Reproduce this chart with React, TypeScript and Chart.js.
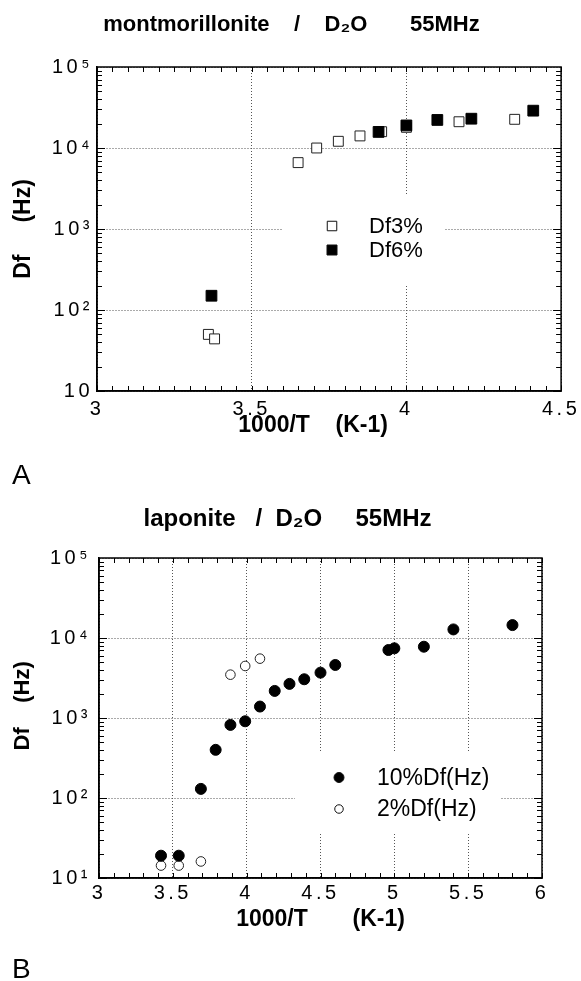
import React, { useEffect, useRef } from 'react';
import { Chart, registerables } from 'chart.js';

Chart.register(...registerables);

const FONT = "'Liberation Sans', Arial, Helvetica, sans-serif";

// ---------- Panel A : montmorillonite / D2O ----------
const montTitle = 'montmorillonite    /    D₂O       55MHz';
const montXTicks = [3, 3.5, 4, 4.5];
const montXLabels = ['3', '3.5', '4', '4.5'];
const montYTicks = [10, 100, 1000, 10000, 100000];
const montYLabels = ['10', '10²', '10³', '10⁴', '10⁵'];
const montDf3X = [3.36, 3.38, 3.65, 3.71, 3.78, 3.85, 3.92, 4.0, 4.17, 4.35];
const montDf3Y = [50, 44, 6600, 10000, 12100, 14100, 15900, 18000, 21100, 22600];
const montDf6X = [3.37, 3.91, 4.0, 4.1, 4.21, 4.41];
const montDf6Y = [150, 15800, 19000, 22200, 23000, 28900];

// ---------- Panel B : laponite / D2O ----------
const lapTitle = 'laponite   /  D₂O     55MHz';
const lapXTicks = [3, 3.5, 4, 4.5, 5, 5.5, 6];
const lapXLabels = ['3', '3.5', '4', '4.5', '5', '5.5', '6'];
const lapYTicks = [10, 100, 1000, 10000, 100000];
const lapYLabels = ['10¹', '10²', '10³', '10⁴', '10⁵'];
const lap10X = [3.42, 3.54, 3.69, 3.79, 3.89, 3.99, 4.09, 4.19, 4.29, 4.39, 4.5, 4.6, 4.96, 5.0, 5.2, 5.4, 5.8];
const lap10Y = [19, 19, 130, 400, 820, 910, 1390, 2180, 2670, 3050, 3690, 4600, 7080, 7430, 7780, 12800, 14500];
const lap2X = [3.42, 3.54, 3.69, 3.89, 3.99, 4.09];
const lap2Y = [14.3, 14.3, 16.1, 3480, 4470, 5520];

const toPoints = (xs: number[], ys: number[]) => xs.map((x, i) => ({ x, y: ys[i] }));

// letter-spaced tick labels
const tickSpacingPlugin = {
  id: 'tickSpacing',
  beforeDraw(chart: any, _args: any, opts: any) {
    Object.values(chart.scales).forEach((s: any) => {
      if (s.__spaced) return;
      const orig = s.drawLabels.bind(s);
      s.drawLabels = (area: any) => {
        const ctx = s.ctx;
        ctx.save();
        ctx.letterSpacing = opts.spacing || '0px';
        orig(area);
        ctx.restore();
      };
      s.__spaced = true;
    });
  },
};

// frame and inward minor ticks
const frameTicksPlugin = {
  id: 'frameTicks',
  afterDatasetsDraw(chart: any, _args: any, opts: any) {
    const { ctx, chartArea: a, scales } = chart;
    const x = scales.x;
    const y = scales.y;
    ctx.save();
    ctx.strokeStyle = '#000';
    ctx.lineWidth = 1;
    ctx.beginPath();
    const step = opts.xStep;
    const n = Math.round((x.max - x.min) / step);
    for (let i = 0; i <= n; i++) {
      const v = x.min + i * step;
      const px = Math.round(x.getPixelForValue(v)) + 0.5;
      const L = opts.minorLen;
      ctx.moveTo(px, a.bottom);
      ctx.lineTo(px, a.bottom - L);
      ctx.moveTo(px, a.top);
      ctx.lineTo(px, a.top + L);
    }
    for (let d = y.min; d < y.max * 0.999; d *= 10) {
      for (let m = 1; m < 10; m++) {
        const py = Math.round(y.getPixelForValue(d * m)) + 0.5;
        const L = m === 1 ? opts.majorLen : opts.minorLen;
        ctx.moveTo(a.left, py);
        ctx.lineTo(a.left + L, py);
        ctx.moveTo(a.right, py);
        ctx.lineTo(a.right - L, py);
      }
    }
    ctx.stroke();
    ctx.lineWidth = 1.5;
    ctx.strokeRect(a.left, a.top, a.right - a.left, a.bottom - a.top);
    ctx.restore();
  },
};

// legend drawn inside the plot with white background
const insideLegendPlugin = {
  id: 'insideLegend',
  beforeDatasetsDraw(chart: any, _args: any, opts: any) {
    const { ctx, chartArea: a } = chart;
    ctx.save();
    ctx.fillStyle = '#fff';
    ctx.fillRect(a.left + opts.box[0], a.top + opts.box[1], opts.box[2] - opts.box[0], opts.box[3] - opts.box[1]);
    ctx.font = `${opts.fontSize}px ${FONT}`;
    ctx.textBaseline = 'middle';
    ctx.textAlign = 'left';
    opts.items.forEach((it: any, i: number) => {
      const cx = a.left + opts.markerX;
      const cy = a.top + opts.rows[i];
      ctx.beginPath();
      if (it.shape === 'rect') {
        ctx.rect(cx - it.size / 2, cy - it.size / 2, it.size, it.size);
      } else {
        ctx.arc(cx, cy, it.size / 2, 0, Math.PI * 2);
      }
      ctx.fillStyle = it.fill;
      ctx.fill();
      ctx.lineWidth = 1;
      ctx.strokeStyle = '#111';
      ctx.stroke();
      ctx.fillStyle = '#000';
      ctx.fillText(it.label, a.left + opts.textX, cy + 1);
    });
    ctx.restore();
  },
};

type Panel = {
  title: string;
  titleSize: number;
  titlePad: { top: number; bottom: number };
  padding: { left: number; right: number; top: number; bottom: number };
  xMin: number;
  xMax: number;
  xTicks: number[];
  xLabels: string[];
  yTicks: number[];
  yLabels: string[];
  yWidth: number;
  xHeight: number;
  yTickPad: number;
  xTickPad: number;
  yTitle: string;
  yTitleSize: number;
  yTitlePad: number;
  xTitle: string;
  xStep: number;
  datasets: any[];
  legend: any;
};

function makeConfig(p: Panel): any {
  return {
    type: 'scatter',
    data: { datasets: p.datasets },
    options: {
      responsive: false,
      animation: false,
      layout: { padding: p.padding },
      scales: {
        x: {
          type: 'linear',
          min: p.xMin,
          max: p.xMax,
          afterBuildTicks: (s: any) => {
            s.ticks = p.xTicks.map((v) => ({ value: v }));
          },
          afterFit: (s: any) => {
            s.height = p.xHeight;
          },
          ticks: {
            autoSkip: false,
            maxRotation: 0,
            padding: p.xTickPad,
            color: '#000',
            font: { family: FONT, size: 20 },
            callback: (v: number) => {
              const i = p.xTicks.indexOf(v);
              return i >= 0 ? p.xLabels[i] : '';
            },
          },
          grid: { color: '#555', lineWidth: 1, drawTicks: false },
          border: { display: true, color: '#000', width: 1.5, dash: [1, 2] },
          title: {
            display: true,
            text: p.xTitle,
            color: '#000',
            font: { family: FONT, size: 23, weight: 'bold' },
            padding: { top: 0, bottom: 0 },
          },
        },
        y: {
          type: 'logarithmic',
          min: p.yTicks[0],
          max: p.yTicks[p.yTicks.length - 1],
          afterBuildTicks: (s: any) => {
            s.ticks = p.yTicks.map((v) => ({ value: v }));
          },
          afterFit: (s: any) => {
            s.width = p.yWidth;
          },
          ticks: {
            autoSkip: false,
            padding: p.yTickPad,
            color: '#000',
            font: { family: FONT, size: 20 },
            callback: (v: number) => {
              const i = p.yTicks.indexOf(v);
              return i >= 0 ? p.yLabels[i] : '';
            },
          },
          grid: { color: '#555', lineWidth: 1, drawTicks: false },
          border: { display: true, color: '#000', width: 1.5, dash: [1, 2] },
          title: {
            display: true,
            text: p.yTitle,
            color: '#000',
            font: { family: FONT, size: p.yTitleSize, weight: 'bold', lineHeight: 1 },
            padding: { top: p.yTitlePad, bottom: 0 },
          },
        },
      },
      plugins: {
        legend: { display: false },
        tooltip: { enabled: false },
        title: {
          display: true,
          text: p.title,
          color: '#000',
          font: { family: FONT, size: p.titleSize, weight: 'bold', lineHeight: 1.2 },
          padding: p.titlePad,
        },
        tickSpacing: { spacing: '3.5px' },
        frameTicks: { xStep: p.xStep, minorLen: 5, majorLen: 8 },
        insideLegend: p.legend,
      },
    },
    plugins: [tickSpacingPlugin, frameTicksPlugin, insideLegendPlugin],
  };
}

const panelA: Panel = {
  title: montTitle,
  titleSize: 22,
  titlePad: { top: 12, bottom: 28.6 },
  padding: { left: 20, right: 18, top: 0, bottom: 51 },
  xMin: 3,
  xMax: 4.5,
  xTicks: montXTicks,
  xLabels: montXLabels,
  yTicks: montYTicks,
  yLabels: montYLabels,
  yWidth: 77,
  xHeight: 48,
  yTickPad: 4,
  xTickPad: 6,
  yTitle: 'Df     (Hz)',
  yTitleSize: 23,
  yTitlePad: -7.5,
  xTitle: '1000/T    (K-1)     ',
  xStep: 0.05,
  datasets: [
    {
      label: 'Df6%',
      data: toPoints(montDf6X, montDf6Y),
      pointStyle: 'rect',
      pointRadius: 7.6,
      backgroundColor: '#000',
      borderColor: '#000',
      borderWidth: 1,
      order: 0,
    },
    {
      label: 'Df3%',
      data: toPoints(montDf3X, montDf3Y),
      pointStyle: 'rect',
      pointRadius: 7,
      backgroundColor: '#fff',
      borderColor: '#222',
      borderWidth: 1,
      order: 1,
    },
  ],
  legend: {
    box: [186, 128, 348, 219],
    markerX: 235,
    textX: 272,
    rows: [159, 183],
    fontSize: 22,
    items: [
      { label: 'Df3%', shape: 'rect', size: 9.5, fill: '#fff' },
      { label: 'Df6%', shape: 'rect', size: 10, fill: '#000' },
    ],
  },
};

const panelB: Panel = {
  title: lapTitle,
  titleSize: 24,
  titlePad: { top: 15.1, bottom: 24.1 },
  padding: { left: 33, right: 39, top: 0, bottom: 48 },
  xMin: 3,
  xMax: 6,
  xTicks: lapXTicks,
  xLabels: lapXLabels,
  yTicks: lapYTicks,
  yLabels: lapYLabels,
  yWidth: 66,
  xHeight: 55,
  yTickPad: 8,
  xTickPad: 3.5,
  yTitle: '    Df    (Hz)',
  yTitleSize: 22,
  yTitlePad: -21,
  xTitle: '1000/T       (K-1)',
  xStep: 0.1,
  datasets: [
    {
      label: '10%Df(Hz)',
      data: toPoints(lap10X, lap10Y),
      pointStyle: 'circle',
      pointRadius: 5.5,
      backgroundColor: '#000',
      borderColor: '#000',
      borderWidth: 1,
      order: 0,
    },
    {
      label: '2%Df(Hz)',
      data: toPoints(lap2X, lap2Y),
      pointStyle: 'circle',
      pointRadius: 4.8,
      backgroundColor: '#fff',
      borderColor: '#222',
      borderWidth: 1,
      order: 1,
    },
  ],
  legend: {
    box: [196, 195, 401, 274],
    markerX: 240,
    textX: 278,
    rows: [219.5, 251],
    fontSize: 23,
    items: [
      { label: '10%Df(Hz)', shape: 'circle', size: 10, fill: '#000' },
      { label: '2%Df(Hz)', shape: 'circle', size: 8.5, fill: '#fff' },
    ],
  },
};

function ChartCanvas({ panel, width, height }: { panel: Panel; width: number; height: number }) {
  const ref = useRef<HTMLCanvasElement | null>(null);
  useEffect(() => {
    if (!ref.current) return;
    const chart = new Chart(ref.current, makeConfig(panel));
    return () => chart.destroy();
  }, [panel]);
  return <canvas ref={ref} width={width} height={height} style={{ display: 'block', width, height }} />;
}

export default function App() {
  const labelStyle: React.CSSProperties = {
    position: 'absolute',
    left: 12,
    fontFamily: FONT,
    fontSize: 28,
    lineHeight: '28px',
    color: '#000',
  };
  return (
    <div
      style={{
        position: 'absolute',
        left: 0,
        top: 0,
        width: 581,
        height: 981,
        overflow: 'hidden',
        background: '#fff',
      }}
    >
      <div style={{ position: 'absolute', left: 0, top: 0 }}>
        <ChartCanvas panel={panelA} width={581} height={490} />
      </div>
      <div style={{ position: 'absolute', left: 0, top: 490 }}>
        <ChartCanvas panel={panelB} width={581} height={491} />
      </div>
      <div style={{ ...labelStyle, top: 461 }}>A</div>
      <div style={{ ...labelStyle, top: 955 }}>B</div>
    </div>
  );
}
